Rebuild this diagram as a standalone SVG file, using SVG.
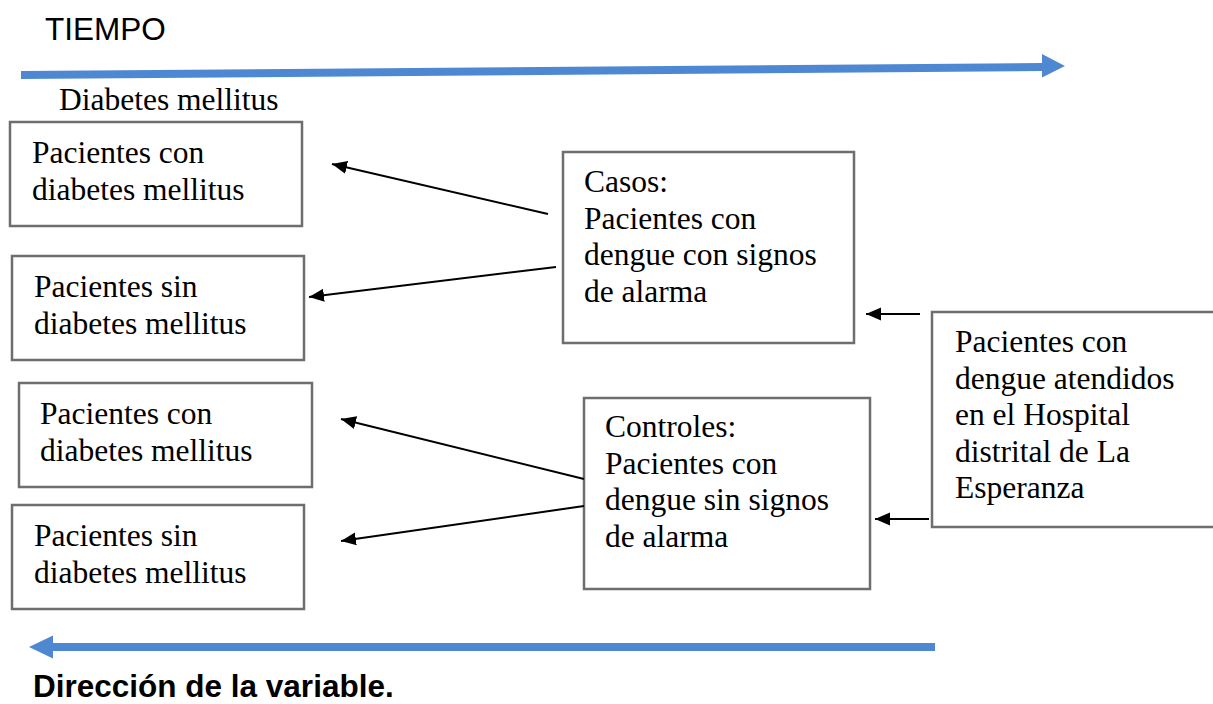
<svg xmlns="http://www.w3.org/2000/svg" width="1213" height="704" viewBox="0 0 1213 704">
  <style>
    .box { fill: #ffffff; stroke: #6e6e6e; stroke-width: 2.5; }
    .t { font-family: "Liberation Serif", "Times New Roman", serif; font-size: 31.5px; fill: #000000; }
    .s { font-family: "Liberation Sans", Arial, sans-serif; font-size: 31.5px; fill: #000000; }
    .b { font-family: "Liberation Sans", Arial, sans-serif; font-size: 31.5px; font-weight: bold; fill: #000000; }
    .conn { stroke: #000000; stroke-width: 2; fill: none; marker-end: url(#ah); }
    .blue { fill: #4F88D2; }
  </style>
  <defs>
    <marker id="ah" markerUnits="userSpaceOnUse" markerWidth="16" markerHeight="14" refX="15" refY="6.5" orient="auto">
      <path d="M0,0 L15,6.5 L0,13 Z" fill="#000000"/>
    </marker>
  </defs>
  <rect width="1213" height="704" fill="#ffffff"/>

  <g id="tiempo">
    <text class="s" x="45" y="40">TIEMPO</text>
    <polygon class="blue" points="21,71 1042,63 1042,71 21,79"/>
    <polygon class="blue" points="1042,54 1065,66 1042,77.5"/>
  </g>

  <g id="direccion">
    <polygon class="blue" points="53,643 935,643 935,651 53,651"/>
    <polygon class="blue" points="53,635.5 29,647 53,658.5"/>
    <text class="b" x="33" y="697">Dirección de la variable.</text>
  </g>

  <g id="header">
    <text class="t" x="59" y="110">Diabetes mellitus</text>
  </g>

  <g id="box1">
    <rect class="box" x="10" y="122" width="292" height="104"/>
    <text class="t" x="32" y="163">Pacientes con</text>
    <text class="t" x="32" y="199.5">diabetes mellitus</text>
  </g>

  <g id="box2">
    <rect class="box" x="12" y="256" width="292" height="104"/>
    <text class="t" x="34" y="297">Pacientes sin</text>
    <text class="t" x="34" y="333.5">diabetes mellitus</text>
  </g>

  <g id="box3">
    <rect class="box" x="19" y="383" width="293" height="104"/>
    <text class="t" x="40" y="424">Pacientes con</text>
    <text class="t" x="40" y="460.5">diabetes mellitus</text>
  </g>

  <g id="box4">
    <rect class="box" x="12" y="505" width="292" height="104"/>
    <text class="t" x="34" y="546">Pacientes sin</text>
    <text class="t" x="34" y="582.5">diabetes mellitus</text>
  </g>

  <g id="casos">
    <rect class="box" x="563" y="152" width="291" height="191"/>
    <text class="t" x="584" y="192">Casos:</text>
    <text class="t" x="584" y="228.5">Pacientes con</text>
    <text class="t" x="584" y="265">dengue con signos</text>
    <text class="t" x="584" y="301.5">de alarma</text>
  </g>

  <g id="controles">
    <rect class="box" x="584" y="398" width="286" height="191"/>
    <text class="t" x="605" y="437">Controles:</text>
    <text class="t" x="605" y="473.5">Pacientes con</text>
    <text class="t" x="605" y="510">dengue sin signos</text>
    <text class="t" x="605" y="546.5">de alarma</text>
  </g>

  <g id="poblacion">
    <rect class="box" x="932" y="312" width="300" height="215"/>
    <text class="t" x="955" y="352">Pacientes con</text>
    <text class="t" x="955" y="388.5">dengue atendidos</text>
    <text class="t" x="955" y="425">en el Hospital</text>
    <text class="t" x="955" y="461.5">distrital de La</text>
    <text class="t" x="955" y="498">Esperanza</text>
  </g>

  <g id="connectors">
    <line class="conn" x1="548" y1="214" x2="332" y2="164"/>
    <line class="conn" x1="556" y1="267" x2="309" y2="297"/>
    <line class="conn" x1="584" y1="479" x2="341" y2="419"/>
    <line class="conn" x1="584" y1="506" x2="341" y2="541"/>
    <line class="conn" x1="920" y1="314" x2="866" y2="314"/>
    <line class="conn" x1="929" y1="519" x2="875" y2="519"/>
  </g>
</svg>
